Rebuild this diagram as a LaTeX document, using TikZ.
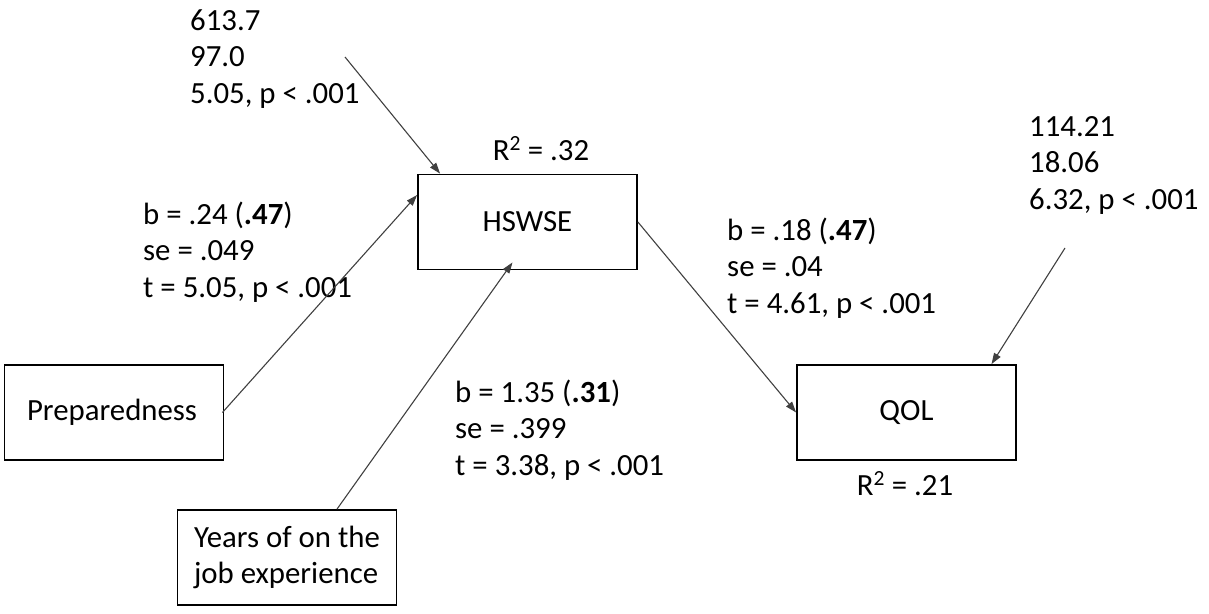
\documentclass[tikz,border=0pt]{standalone}
\usepackage{fontspec}
\setmainfont{Carlito}
\usetikzlibrary{arrows.meta}
\begin{document}
\begin{tikzpicture}[x=1pt,y=-1pt,
  every node/.style={font=\fontsize{30.8}{36.5}\selectfont},
  varbox/.style={draw=black,line width=1.8pt,inner sep=0pt,
    minimum width=219pt,minimum height=95pt},
  pathlbl/.style={anchor=base west,align=left,inner sep=0pt},
  rsq/.style={anchor=base,inner sep=0pt},
  path arrow/.style={draw=black!75,line width=1.1pt,
    -{Triangle[length=11pt,width=7.5pt]}}]
  \useasboundingbox (0,0) rectangle (1209,613);

  % variable boxes
  \node[varbox] (hswse) at (527.5,222) {HSWSE};
  \node[varbox] (prep)  at (114,412.5) {\hspace*{-4pt}Preparedness};
  \node[varbox,align=left] (years) at (287,557.5) {Years of on the\\job experience};
  \node[varbox] (qol)   at (906.5,412.5) {QOL};

  % explained variance
  \node[rsq] (r2h) at (541,160) {R\textsuperscript{2} = .32};
  \node[rsq] (r2q) at (905,495) {R\textsuperscript{2} = .21};

  % coefficient labels (anchored at the baseline of the last line)
  \node[pathlbl] (lblint1) at (190,103) {613.7\\97.0\\5.05, p < .001};
  \node[pathlbl] (lblprep) at (143,297) {b = .24 (\textbf{.47})\\se = .049\\t = 5.05, p < .001};
  \node[pathlbl] (lblyrs) at (455,475) {b = 1.35 (\textbf{.31})\\se = .399\\t = 3.38, p < .001};
  \node[pathlbl] (lblqol) at (727,313) {b = .18 (\textbf{.47})\\se = .04\\t = 4.61, p < .001};
  \node[pathlbl] (lblint2) at (1029,209) {114.21\\18.06\\6.32, p < .001};

  % free ends of the intercept arrows
  \coordinate (int1) at (345,57);
  \coordinate (int2) at (1065,248);

  % paths
  \draw[path arrow] (int1) -- ([xshift=23pt]hswse.north west);
  \draw[path arrow] ([xshift=-2pt]prep.east) -- ([yshift=27pt]hswse.west);
  \draw[path arrow] ([xshift=50pt]years.north) -- ([xshift=-15pt,yshift=8pt]hswse.south);
  \draw[path arrow] (hswse.east) -- (qol.west);
  \draw[path arrow] (int2) -- ([xshift=85pt]qol.north);
\end{tikzpicture}
\end{document}
